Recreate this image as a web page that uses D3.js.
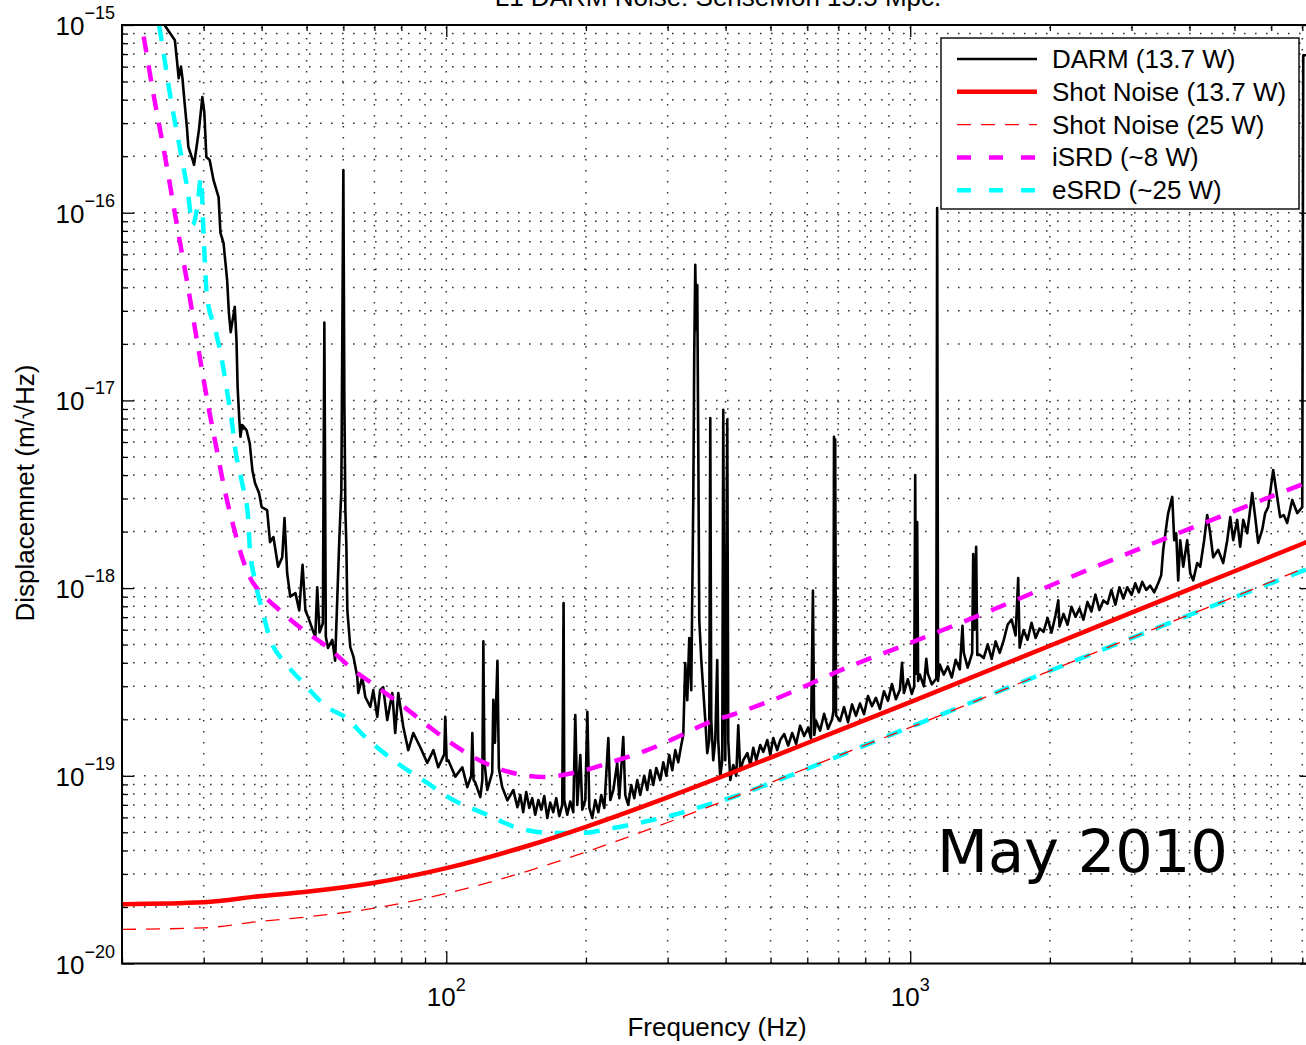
<!DOCTYPE html>
<html><head><meta charset="utf-8">
<script src="https://cdn.jsdelivr.net/npm/d3@7"></script>
<style>body{margin:0;background:#fff;} svg{display:block;}</style>
</head><body><svg id="chart" width="1306" height="1045"></svg>
<script>
// ---------------- data ----------------
const titleText = "L1 DARM Noise: SenseMon 15.5 Mpc.";
const xLabelText = "Frequency (Hz)";
const yLabelText = "Displacemnet (m/\u221AHz)";
const dateText = "May 2010";
const seriesNames = ["DARM (13.7 W)", "Shot Noise (13.7 W)", "Shot Noise (25 W)", "iSRD (~8 W)", "eSRD (~25 W)"];
const xTickValues = [100, 1000];
const xTickExps = ["2", "3"];
const yTickValues = [1e-20, 1e-19, 1e-18, 1e-17, 1e-16, 1e-15];
const yTickExps = ["\u221220", "\u221219", "\u221218", "\u221217", "\u221216", "\u221215"];

const darmFreq = [20, 23, 24.7, 26.0, 26.3, 26.5, 26.8, 27.0, 27.3, 27.6, 27.8, 28.4, 28.6, 29.3, 29.8, 30.1, 30.4, 30.9, 31.5, 32.3,
  32.6, 33.1, 33.7, 34.0, 34.3, 35.0, 35.3, 35.5, 35.8, 36.0, 36.3, 37.1, 37.7, 38.2, 38.7, 39.5, 40.0, 41.1, 41.7, 42.4,
  43.4, 44.3, 44.8, 45.4, 46.1, 47.3, 48.2, 49.0, 49.7, 50.5, 51.5, 52.2, 52.7, 53.3, 54.2, 54.6, 55.0, 55.6, 56.8, 57.6,
  58.2, 58.8, 59.4, 59.7, 60.0, 60.3, 60.6, 60.9, 61.2, 62.1, 63.1, 64.3, 64.6, 65.9, 66.9, 68.6, 69.6, 71.0, 72.0, 73.1,
  74.6, 76.5, 77.6, 78.8, 80.8, 82.8, 84.9, 87.9, 91.0, 93.8, 96.1, 99.0, 99.5, 100.2, 101, 104.6, 108.3, 111, 113.2, 113.8,
  114.5, 115.5, 118.4, 119.6, 120.2, 120.8, 122.6, 125.6, 126.3, 127.3, 128.9, 129.8, 132, 135.4, 139.5, 142.3,
  144.4, 146.5, 148.7, 151, 153.2, 155.5, 157.9, 160.3, 162.6, 165.1, 167.5, 170, 172.6, 175.2, 177.8, 179, 179.6, 182.3, 185, 187.8,
  189.7, 191.6, 194.5, 196.4, 199.4, 201.4, 203.4, 206.4, 209.5, 212.7, 215.8, 219.1, 223.5, 225.7, 229.1, 233.6, 236, 240.7, 243.1, 246.7,
  250.4, 254.2, 258, 261.8, 267.1, 271.1, 275.2, 279.3, 283.5, 289.2, 293.6, 298, 302.4, 307, 311.6, 316.2, 321, 324.2, 327.4, 330.7,
  334, 337.3, 340.7, 342.4, 344.1, 345.8, 347.5, 349.3, 351, 354.5, 358, 361.6, 365.2, 368.8, 370.7, 372.5, 376.2, 380, 383.7, 385.6,
  389.5, 393.4, 395.4, 397.3, 399.3, 403.3, 405.3, 409.4, 415.5, 421.7, 425.9, 430.2, 436.6, 445.6, 452.2, 458.9, 465.8, 475.1, 482.3, 491.9,
  499.2, 506.7, 516.8, 524.5,
  535, 545.7, 556.6, 567.7, 579.1, 590.7, 602.5, 611, 617, 621, 626.8, 639.4, 652.2, 665.2, 678.5, 683, 685, 687, 689, 692,
  706, 720, 734.4, 749.1, 764.1, 779.4, 795, 810.9, 827.1, 843.6, 860.5, 877.7, 895.3, 913.2, 931.4, 950, 960, 969, 988.4, 1008,
  1020, 1025, 1030, 1035, 1040, 1049, 1070, 1083, 1091, 1113, 1138, 1143, 1148, 1158, 1181, 1205, 1229, 1253, 1279, 1296,
  1304, 1330, 1360, 1367, 1375, 1387, 1395, 1412, 1440, 1469, 1498, 1528, 1559, 1590, 1622, 1654, 1687, 1709, 1721, 1755,
  1790, 1826, 1863, 1900, 1938, 1977, 2016, 2057, 2085, 2098, 2140, 2183, 2226, 2271, 2316, 2362, 2410, 2458, 2507, 2557,
  2608, 2661, 2714, 2768, 2824, 2880, 2937, 3000, 3055, 3110, 3162, 3226, 3290, 3357, 3423, 3475, 3510, 3580, 3598, 3671,
  3707, 3744, 3781, 3819, 3876, 3954, 4013, 4073, 4155, 4217, 4301, 4366, 4432, 4498, 4610, 4727, 4823, 4896, 4968, 5067,
  5143, 5221, 5325, 5459, 5541, 5623, 5736, 5822, 5909, 6058, 6178, 6271, 6383, 6494, 6658, 6826, 6998, 7033, 7400];
const darmAsd = [3.0e-15, 1.8e-15, 1.0e-15, 8.3e-16, 6.3e-16, 5.2e-16, 6.0e-16, 5.2e-16, 3.8e-16, 2.86e-16, 2.24e-16, 1.91e-16, 1.80e-16, 2.76e-16, 4.13e-16, 3.4e-16, 1.98e-16, 1.91e-16, 1.49e-16, 1.21e-16,
  7.8e-17, 6.9e-17, 4.38e-17, 2.92e-17, 2.31e-17, 3.15e-17, 2.1e-17, 1.18e-17, 7.9e-18, 6.4e-18, 7.4e-18, 6.95e-18, 5.9e-18, 4.25e-18, 3.63e-18, 3.2e-18, 2.7e-18, 2.6e-18, 1.76e-18, 1.87e-18,
  1.3e-18, 1.46e-18, 2.36e-18, 1.2e-18, 9.0e-19, 9.4e-19, 7.6e-19, 1.33e-18, 7.6e-19, 6.9e-19, 6.0e-19, 5.5e-19, 1.01e-18, 5.8e-19, 6.5e-19, 2.6e-17, 5.5e-19, 4.8e-19, 5.3e-19, 4.1e-19,
  8.6e-19, 1.8e-18, 3.3e-18, 2.37e-17, 1.69e-16, 1.0e-17, 2.6e-18, 1.7e-18, 7.6e-19, 4.85e-19, 4.3e-19, 3.36e-19, 2.76e-19, 3.36e-19, 2.63e-19, 2.33e-19, 2.86e-19, 2.06e-19, 2.86e-19, 2.97e-19,
  1.98e-19, 2.76e-19, 1.69e-19, 2.76e-19, 1.82e-19, 1.37e-19, 1.69e-19, 1.42e-19, 1.17e-19, 1.37e-19, 1.11e-19, 1.3e-19, 2.06e-19, 1.2e-19, 1.21e-19, 9.9e-20, 1.11e-19, 8.7e-20, 1.0e-19, 1.69e-19,
  9.5e-20, 9.2e-20, 7.7e-20, 9.5e-20, 5.2e-19, 1.2e-19, 8.4e-20, 1.04e-19, 2.54e-19, 1.5e-19, 4.1e-19, 1.1e-19, 8.7e-20, 7.4e-20, 8.4e-20, 6.8e-20,
  7.9e-20, 6.4e-20, 8.2e-20, 6.74e-20, 7.6e-20, 6.2e-20, 7.43e-20, 6.6e-20, 7.8e-20, 5.96e-20, 7.2e-20, 6.4e-20, 7.6e-20, 6.1e-20, 7.0e-20, 8.33e-19, 7.43e-20, 6.2e-20, 7.3e-20, 6.4e-20,
  2.11e-19, 7.0e-20, 1.29e-19, 6.6e-20, 7.43e-20, 2.19e-19, 6.74e-20, 5.96e-20, 7.43e-20, 6.4e-20, 7.9e-20, 6.74e-20, 1.59e-19, 7.43e-20, 8.4e-20, 1.17e-19, 7.6e-20, 1.61e-19, 7.9e-20, 7.0e-20,
  8.93e-20, 7.6e-20, 9.5e-20, 7.9e-20, 1.0e-19, 8.4e-20, 1.07e-19, 8.93e-20, 1.1e-19, 9.5e-20, 1.18e-19, 1.0e-19, 1.29e-19, 1.07e-19, 1.37e-19, 1.18e-19, 1.46e-19, 1.65e-19, 3.99e-19, 2.53e-19,
  5.42e-19, 2.86e-19, 2.95e-18, 1.86e-17, 5.27e-17, 2.37e-17, 4.12e-17, 5.44e-18, 6.76e-19, 4.14e-19, 2.86e-19, 1.98e-19, 1.32e-19, 1.55e-19, 8.06e-18, 1.98e-19, 1.21e-19, 1.55e-19, 4.14e-19, 1.55e-19,
  9.85e-20, 1.21e-19, 8.9e-18, 4.68e-19, 1.21e-19, 7.9e-18, 1.55e-19, 9.5e-20, 1.14e-19, 1.0e-19, 1.86e-19, 1.07e-19, 1.21e-19, 1.32e-19, 1.14e-19, 1.41e-19, 1.21e-19, 1.46e-19, 1.34e-19, 1.55e-19,
  1.29e-19, 1.59e-19, 1.37e-19, 1.55e-19,
  1.67e-19, 1.45e-19, 1.69e-19, 1.48e-19, 1.85e-19, 1.63e-19, 1.81e-19, 1.58e-19, 9.7e-19, 1.65e-19, 1.96e-19, 1.74e-19, 2.14e-19, 1.78e-19, 2.0e-19, 2.2e-19, 6.4e-18, 1.2e-18, 6.2e-18, 2.1e-19,
  1.96e-19, 2.32e-19, 1.93e-19, 2.40e-19, 2.09e-19, 2.43e-19, 2.13e-19, 2.66e-19, 2.35e-19, 2.60e-19, 2.27e-19, 2.82e-19, 2.51e-19, 3.08e-19, 2.56e-19, 2.87e-19, 4.0e-19, 2.76e-19, 3.27e-19, 2.73e-19,
  3.0e-19, 4.0e-18, 3.5e-19, 2.25e-18, 3.2e-19, 3.46e-19, 3.0e-19, 4.2e-19, 3.51e-19, 3.07e-19, 3.3e-19, 1.06e-16, 3.2e-19, 3.92e-19, 3.46e-19, 3.83e-19, 3.34e-19, 4.15e-19, 3.69e-19, 6.3e-19,
  4.54e-19, 3.77e-19, 4.5e-19, 1.52e-18, 6.0e-19, 1.66e-18, 4.4e-19, 4.42e-19, 4.24e-19, 5.02e-19, 4.19e-19, 5.2e-19, 4.52e-19, 5.27e-19, 6.4e-19, 6.8e-19, 5.6e-19, 1.13e-18, 4.82e-19, 5.98e-19,
  5.31e-19, 6.54e-19, 5.43e-19, 6.09e-19, 5.85e-19, 6.93e-19, 5.79e-19, 7.17e-19, 8.6e-19, 6.25e-19, 7.29e-19, 6.38e-19, 7.96e-19, 7.03e-19, 7.79e-19, 6.79e-19, 8.44e-19, 7.5e-19, 9.23e-19, 7.65e-19,
  8.6e-19, 8.25e-19, 9.78e-19, 8.16e-19, 1.01e-18, 8.8e-19, 1.01e-18, 9.2e-19, 1.06e-18, 9.5e-19, 1.08e-18, 9.77e-19, 1.03e-18, 9.5e-19, 1.06e-18, 1.17e-18, 1.6e-18, 2.31e-18, 2.51e-18, 3.06e-18,
  1.8e-18, 1.96e-18, 1.1e-18, 1.8e-18, 1.3e-18, 1.8e-18, 1.2e-18, 1.1e-18, 1.36e-18, 1.3e-18, 1.8e-18, 2.45e-18, 1.96e-18, 1.46e-18, 1.6e-18, 1.36e-18, 1.8e-18, 2.39e-18, 1.8e-18, 2.31e-18,
  1.66e-18, 2.31e-18, 1.96e-18, 3.21e-18, 2.39e-18, 1.74e-18, 2.04e-18, 2.51e-18, 2.7e-18, 4.26e-18, 3.06e-18, 2.39e-18, 2.45e-18, 2.22e-18, 2.95e-18, 2.51e-18, 2.7e-18, 6.9e-16, 6.9e-16];

const shotFreq = [20, 30, 40, 50, 70, 100, 150, 200, 300, 500, 700, 1000, 2000, 3000, 5000, 7400];
const shot137 = [2.07e-20, 2.12e-20, 2.29e-20, 2.41e-20, 2.69e-20, 3.22e-20, 4.24e-20, 5.35e-20, 7.68e-20, 1.25e-19, 1.74e-19, 2.47e-19, 4.93e-19, 7.40e-19, 1.23e-18, 1.82e-18];
const shot25 = [1.52e-20, 1.55e-20, 1.68e-20, 1.77e-20, 1.97e-20, 2.36e-20, 3.11e-20, 3.93e-20, 5.64e-20, 9.2e-20, 1.28e-19, 1.81e-19, 3.62e-19, 5.43e-19, 9.0e-19, 1.34e-18];

const isrdFreq = [20, 22.2, 23.4, 24.8, 26.2, 27.7, 29.2, 30.8, 31.8, 33.4, 34.8, 36.3, 37.8, 40.1, 43.2, 49.2, 55.7, 63.1, 71.0, 81.6,
  92.5, 105.6, 120.2, 139.4, 161.9, 191.5, 233.6, 271, 315, 365, 424, 492, 753, 1000, 1415, 2565, 6267, 7400];
const isrdAsd = [3.5e-15, 9.06e-16, 4.23e-16, 1.95e-16, 8.9e-17, 4.12e-17, 1.9e-17, 8.9e-18, 5.93e-18, 3.21e-18, 2.12e-18, 1.46e-18, 1.13e-18, 9.3e-19, 7.83e-19, 5.98e-19, 4.8e-19, 3.66e-19, 2.97e-19, 2.3e-19,
  1.8e-19, 1.42e-19, 1.18e-19, 1.035e-19, 9.86e-20, 1.047e-19, 1.21e-19, 1.37e-19, 1.61e-19, 1.91e-19, 2.16e-19, 2.47e-19, 3.89e-19, 5.1e-19, 7.2e-19, 1.33e-18, 3.21e-18, 3.77e-18];

const esrdFreq = [20, 24.2, 25.4, 26.9, 27.7, 28.4, 29.1, 29.6, 30.0, 30.5, 31.8, 32.9, 33.7, 34.4, 35.1, 36.3, 37.4, 37.7, 38.7, 40.1,
  41.8, 45.0, 49.2, 55.4, 60.6, 66.9, 76.9, 91.0, 103.5, 120.2, 142.9, 167.5, 194.4, 229.2, 265.9, 308.5, 357.8, 415.5, 487.6, 1000, 7100, 7400];
const esrdAsd = [8e-15, 9.06e-16, 4.23e-16, 1.95e-16, 1.32e-16, 8.6e-17, 1.1e-16, 1.53e-16, 7.4e-17, 3.56e-17, 2.37e-17, 1.6e-17, 1.11e-17, 8.16e-18, 5.45e-18, 3.63e-18, 2.39e-18, 1.66e-18, 1.10e-18, 7.64e-19,
  5.29e-19, 3.99e-19, 3.12e-19, 2.32e-19, 2.05e-19, 1.61e-19, 1.21e-19, 9.16e-20, 7.43e-20, 6.33e-20, 5.27e-20, 4.96e-20, 4.96e-20, 5.27e-20, 5.67e-20, 6.18e-20, 6.9e-20, 7.71e-20, 8.93e-20, 1.82e-19, 1.25e-18, 1.3e-18];

// ---------------- layout ----------------
const M = {left: 122, right: 1312, top: 25, bottom: 963.5};
const svg = d3.select("#chart");
const x = d3.scaleLog().domain([20, 7345]).range([M.left, M.right]);
const y = d3.scaleLog().domain([1e-20, 1e-15]).range([M.bottom, M.top]);
const FONT = "'Liberation Sans', Arial, Helvetica, sans-serif";

svg.append("rect").attr("width", 1306).attr("height", 1045).attr("fill", "#fff");
svg.append("defs").append("clipPath").attr("id", "clip")
  .append("rect").attr("x", M.left).attr("y", M.top).attr("width", M.right - M.left).attr("height", M.bottom - M.top);

// grid (dotted, at every major and minor tick)
const xTicksAll = x.ticks();
const yTicksAll = y.ticks();
const grid = svg.append("g").attr("stroke", "#333").attr("stroke-width", 1.5).attr("stroke-dasharray", "1.6,9.4");
grid.selectAll("line.v").data(xTicksAll.filter(d => d > 20)).join("line")
  .attr("x1", d => x(d)).attr("x2", d => x(d)).attr("y1", M.bottom).attr("y2", M.top);
grid.selectAll("line.h").data(yTicksAll.filter(d => d > 1.01e-20 && d < 0.99e-15)).join("line")
  .attr("y1", d => y(d)).attr("y2", d => y(d)).attr("x1", M.left).attr("x2", M.right);

// axes ticks (inside, both sides) via d3 axes
const isMajorX = d => xTickValues.includes(d);
const isMajorY = d => Math.abs(Math.log10(d) - Math.round(Math.log10(d))) < 1e-6;
function styleAxis(s) { s.select(".domain").remove(); s.selectAll("line").attr("stroke", "#000").attr("stroke-width", 1.3); s.selectAll("text").remove(); }
const minorX = xTicksAll.filter(d => !isMajorX(d));
const minorY = yTicksAll.filter(d => !isMajorY(d));
svg.append("g").attr("transform", `translate(0,${M.bottom})`).call(d3.axisBottom(x).tickValues(minorX).tickSize(-6)).call(styleAxis);
svg.append("g").attr("transform", `translate(0,${M.bottom})`).call(d3.axisBottom(x).tickValues(xTickValues).tickSize(-12)).call(styleAxis);
svg.append("g").attr("transform", `translate(0,${M.top})`).call(d3.axisTop(x).tickValues(minorX).tickSize(-6)).call(styleAxis);
svg.append("g").attr("transform", `translate(0,${M.top})`).call(d3.axisTop(x).tickValues(xTickValues).tickSize(-12)).call(styleAxis);
svg.append("g").attr("transform", `translate(${M.left},0)`).call(d3.axisLeft(y).tickValues(minorY).tickSize(-6)).call(styleAxis);
svg.append("g").attr("transform", `translate(${M.left},0)`).call(d3.axisLeft(y).tickValues(yTickValues).tickSize(-12)).call(styleAxis);
svg.append("g").attr("transform", `translate(${M.right},0)`).call(d3.axisRight(y).tickValues(minorY).tickSize(-6)).call(styleAxis);
svg.append("g").attr("transform", `translate(${M.right},0)`).call(d3.axisRight(y).tickValues(yTickValues).tickSize(-12)).call(styleAxis);

// ---------------- series ----------------
const plotG = svg.append("g").attr("clip-path", "url(#clip)");
const lineRaw = d3.line().x(d => x(d[0])).y(d => y(d[1]));
const lineSmooth = d3.line().x(d => x(d[0])).y(d => y(d[1])).curve(d3.curveMonotoneX);
const zip = (a, b) => a.map((v, i) => [v, b[i]]);

plotG.append("path").datum(zip(darmFreq, darmAsd)).attr("d", lineRaw)
  .attr("fill", "none").attr("stroke", "#000").attr("stroke-width", 2.6).attr("stroke-linejoin", "round");
plotG.append("path").datum(zip(isrdFreq, isrdAsd)).attr("d", lineSmooth)
  .attr("fill", "none").attr("stroke", "#ff00ff").attr("stroke-width", 4.5).attr("stroke-dasharray", "16,13");
plotG.append("path").datum(zip(esrdFreq, esrdAsd)).attr("d", lineSmooth)
  .attr("fill", "none").attr("stroke", "#00ffff").attr("stroke-width", 4.5).attr("stroke-dasharray", "16,13");
plotG.append("path").datum(zip(shotFreq, shot137)).attr("d", lineSmooth)
  .attr("fill", "none").attr("stroke", "#ff0000").attr("stroke-width", 4.5);
plotG.append("path").datum(zip(shotFreq, shot25)).attr("d", lineSmooth)
  .attr("fill", "none").attr("stroke", "#ff0000").attr("stroke-width", 1.3).attr("stroke-dasharray", "14,10");

// frame
svg.append("rect").attr("x", M.left).attr("y", M.top).attr("width", M.right - M.left).attr("height", M.bottom - M.top)
  .attr("fill", "none").attr("stroke", "#000").attr("stroke-width", 2);

// ---------------- tick labels ----------------
const xl = svg.append("g").attr("font-family", FONT).attr("fill", "#000");
xTickValues.forEach((v, i) => {
  const t = xl.append("text").attr("x", x(v)).attr("y", 1006).attr("text-anchor", "middle").attr("font-size", 26);
  t.append("tspan").text("10");
  t.append("tspan").attr("dy", -15).attr("font-size", 18).text(xTickExps[i]);
});
yTickValues.forEach((v, i) => {
  const t = xl.append("text").attr("x", 115).attr("y", y(v) + 10).attr("text-anchor", "end").attr("font-size", 26);
  t.append("tspan").text("10");
  t.append("tspan").attr("dy", -16).attr("font-size", 18).text(yTickExps[i]);
});

// axis labels & title
svg.append("text").attr("x", (M.left + M.right) / 2).attr("y", 1036).attr("text-anchor", "middle")
  .attr("font-family", FONT).attr("font-size", 26).text(xLabelText);
svg.append("text").attr("transform", "translate(34,493) rotate(-90)").attr("text-anchor", "middle")
  .attr("font-family", FONT).attr("font-size", 26).text(yLabelText);
svg.append("text").attr("x", 718).attr("y", 6).attr("text-anchor", "middle")
  .attr("font-family", FONT).attr("font-size", 26).text(titleText);

// date annotation
svg.append("text").attr("x", 937).attr("y", 872).attr("font-family", "'DejaVu Sans', sans-serif")
  .attr("font-size", 59).text(dateText);

// ---------------- legend ----------------
const legendStyles = [
  {stroke: "#000", w: 2.6, dash: null},
  {stroke: "#ff0000", w: 4.5, dash: null},
  {stroke: "#ff0000", w: 1.3, dash: "14,10"},
  {stroke: "#ff00ff", w: 4.5, dash: "14,18"},
  {stroke: "#00ffff", w: 4.5, dash: "14,18"}
];
const lg = svg.append("g");
lg.append("rect").attr("x", 941).attr("y", 38).attr("width", 358).attr("height", 171)
  .attr("fill", "#fff").attr("stroke", "#000").attr("stroke-width", 1.4);
seriesNames.forEach((name, i) => {
  const cy = 59 + i * 32.8;
  const st = legendStyles[i];
  lg.append("line").attr("x1", 957).attr("x2", 1037).attr("y1", cy).attr("y2", cy)
    .attr("stroke", st.stroke).attr("stroke-width", st.w).attr("stroke-dasharray", st.dash);
  lg.append("text").attr("x", 1052).attr("y", cy + 9).attr("font-family", FONT).attr("font-size", 26).text(name);
});
</script></body></html>
